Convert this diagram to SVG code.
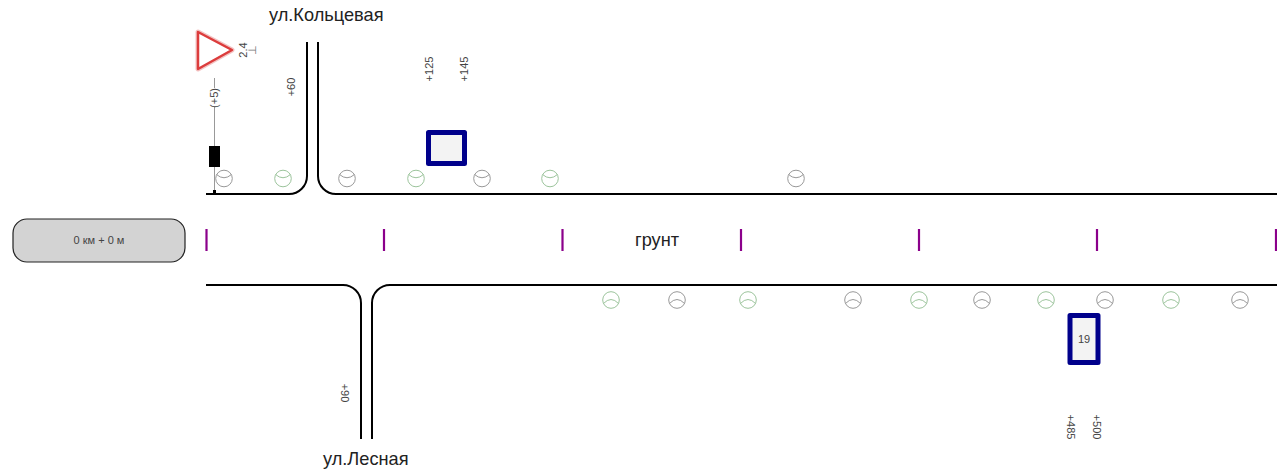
<svg xmlns="http://www.w3.org/2000/svg" width="1277" height="473" viewBox="0 0 1277 473">
<style>
text{font-family:"Liberation Sans",Arial,sans-serif;fill:#444}
.big{font-size:18.2px;fill:#222}
.sm{font-size:11px;text-anchor:middle}
.road{fill:none;stroke:#000;stroke-width:2}
.tick{stroke:#8b008b;stroke-width:2.2}
.g{fill:#fff;stroke:#9cc49c;stroke-width:1}
.k{fill:#fff;stroke:#999;stroke-width:1}
.bus{fill:#f3f3f3;stroke:#00008b;stroke-width:5;stroke-linejoin:round}
</style>
<defs>
<g id="tt"><circle r="8.300"/><path d="M-7.500-4Q0 2.500 7.500-4" fill="none"/></g>
<g id="tb"><circle r="8.300"/><path d="M-7.500 3.500Q0-4.500 7.500 3.500" fill="none"/></g>
</defs>
<g id="connectors">
<path class="road" d="M206 194H289A18 18 0 0 0 307 176V42"/>
<path class="road" d="M318 42V176A18 18 0 0 0 336 194H1277"/>
<path class="road" d="M206 285H343A18 18 0 0 1 361 303V439"/>
<path class="road" d="M372 439V303A18 18 0 0 1 390 285H1277"/>
<path d="M214.500 78V193" stroke="#999" stroke-width="1" fill="none"/>
</g>
<g id="start"><rect x="13" y="219" width="172" height="43" rx="14" fill="#d3d3d3" stroke="#222" stroke-width="1.200"/><text x="99" y="244" class="sm">0 км + 0 м</text></g>
<g id="ticks">
<path class="tick" d="M206.500 229V251M384 229V251M562.500 229V251M741 229V251M919 229V251M1097 229V251M1276 229V251"/>
</g>
<g id="trees-top">
<use href="#tt" class="k" x="224" y="178.500"/><use href="#tt" class="g" x="283" y="178.500"/><use href="#tt" class="k" x="347" y="178.500"/><use href="#tt" class="g" x="416" y="178.500"/><use href="#tt" class="k" x="482" y="178.500"/><use href="#tt" class="g" x="550" y="178.500"/><use href="#tt" class="k" x="796" y="178.500"/>
</g>
<g id="trees-bottom">
<use href="#tb" class="g" x="611" y="300"/><use href="#tb" class="k" x="677" y="300"/><use href="#tb" class="g" x="748" y="300"/><use href="#tb" class="k" x="853" y="300"/><use href="#tb" class="g" x="919" y="300"/><use href="#tb" class="k" x="982" y="300"/><use href="#tb" class="g" x="1046" y="300"/><use href="#tb" class="k" x="1105" y="300"/><use href="#tb" class="g" x="1171" y="300"/><use href="#tb" class="k" x="1240" y="300"/>
</g>
<g id="sign">
<path d="M198 32L232 50L198 69Z" fill="#fff" stroke="#f3c4c4" stroke-width="5" stroke-linejoin="round"/>
<path d="M198 32L232 50L198 69Z" fill="#fff" stroke="#dc3c3c" stroke-width="2.500" stroke-linejoin="round"/>
<text class="sm" transform="translate(247 50) rotate(-90)">2.4</text>
<text class="sm" style="fill:#777" transform="translate(256 50) rotate(-90)">⊥</text>
<rect x="209" y="146" width="11" height="21" fill="#000"/>
<rect x="213" y="190" width="3" height="4" fill="#000"/>
<rect x="208" y="88" width="13" height="19" fill="#fff"/>
<text class="sm" transform="translate(218 98) rotate(-90)">(+5)</text>
</g>
<g id="stop-1"><rect x="428.500" y="132.500" width="36" height="31" class="bus"/></g>
<g id="stop-2"><rect x="1070" y="315.500" width="28" height="47" class="bus"/><text x="1084" y="343" class="sm">19</text></g>
<g id="labels">
<text x="269" y="21" class="big">ул.Кольцевая</text>
<text x="323" y="465" class="big">ул.Лесная</text>
<text x="635" y="246" class="big">грунт</text>
<text class="sm" transform="translate(295 87) rotate(-90)">+60</text>
<text class="sm" transform="translate(433 69) rotate(-90)">+125</text>
<text class="sm" transform="translate(468 69) rotate(-90)">+145</text>
<text class="sm" transform="translate(341 393) rotate(90)">+90</text>
<text class="sm" transform="translate(1067 427) rotate(90)">+485</text>
<text class="sm" transform="translate(1093 427) rotate(90)">+500</text>
</g>
</svg>
